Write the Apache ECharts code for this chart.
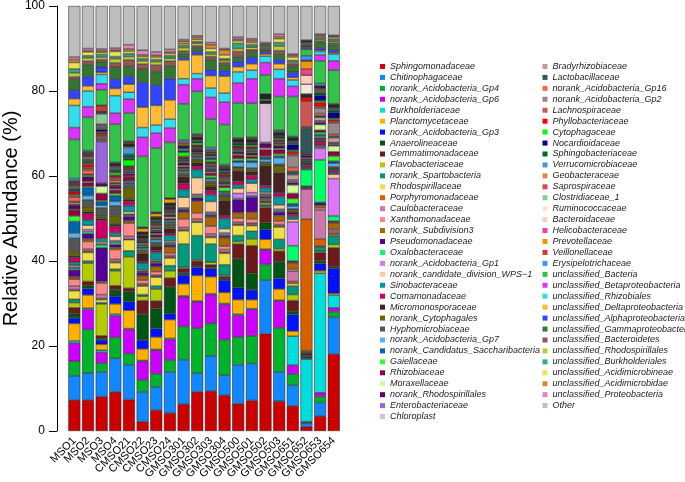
<!DOCTYPE html>
<html>
<head>
<meta charset="utf-8">
<script src="https://cdn.jsdelivr.net/npm/echarts@6/dist/echarts.min.js"></script>
<style>
html,body{margin:0;padding:0;background:#fff;}
#chart{width:685px;height:482px;}
</style>
</head>
<body>
<div id="chart"></div>
<script>
const samples = ['MSO1','MSO2','MSO3','MSO4','CMSO21','CMSO22','CMSO23','CMSO24','GMSO301','GMSO302','GMSO303','GMSO304','GMSO500','GMSO501','GMSO502','GMSO503','GMSO651','GMSO652','GMSO653','GMSO654'];

const families = ['Sphingomonadaceae','Chitinophagaceae','norank_Acidobacteria_Gp4','norank_Acidobacteria_Gp6','Burkholderiaceae','Planctomycetaceae','norank_Acidobacteria_Gp3','Anaerolineaceae','Gemmatimonadaceae','Flavobacteriaceae','norank_Spartobacteria','Rhodospirillaceae','Porphyromonadaceae','Caulobacteraceae','Xanthomonadaceae','norank_Subdivision3','Pseudomonadaceae','Oxalobacteraceae','norank_Acidobacteria_Gp1','norank_candidate_division_WPS\u22121','Sinobacteraceae','Comamonadaceae','Micromonosporaceae','norank_Cytophagales','Hyphomicrobiaceae','norank_Acidobacteria_Gp7','norank_Candidatus_Saccharibacteria','Gaiellaceae','Rhizobiaceae','Moraxellaceae','norank_Rhodospirillales','Enterobacteriaceae','Chloroplast',
'Bradyrhizobiaceae','Lactobacillaceae','norank_Acidobacteria_Gp16','norank_Acidobacteria_Gp2','Lachnospiraceae','Phyllobacteriaceae','Cytophagaceae','Nocardioidaceae','Sphingobacteriaceae','Verrucomicrobiaceae','Geobacteraceae','Saprospiraceae','Clostridiaceae_1','Ruminococcaceae','Bacteroidaceae','Helicobacteraceae','Prevotellaceae','Veillonellaceae','Erysipelotrichaceae','unclassified_Bacteria','unclassified_Betaproteobacteria','unclassified_Rhizobiales','unclassified_Deltaproteobacteria','unclassified_Alphaproteobacteria','unclassified_Gammaproteobacteria','unclassified_Bacteroidetes','unclassified_Rhodospirillales','unclassified_Burkholderiales','unclassified_Acidimicrobineae','unclassified_Acidimicrobidae','unclassified_Proteobacteria','Other'];

const colors = ['#CC0000','#1188FF','#00B22C','#CC00FF','#00DDDD','#FFB000','#0011FF','#005514','#6E1A1A','#B3CC00','#00997A','#EEE044','#D96000','#CC77AA','#FF8888','#AA6600','#550099','#00FF66','#DD77FF','#FFCC99','#009999','#CC0066','#442222','#666600','#555555','#55B4EE','#0066AA','#33FF33','#990044','#CCFF99','#660066','#9966DD','#DDBBDD',
'#CC9999','#335555','#FF6644','#998888','#CC5555','#FF0000','#00FF00','#000088','#006633','#4499DD','#DD8844','#DD4455','#88CC99','#F5E6DC','#FFCCBB','#EE4488','#EE9900','#DD3333','#3399FF','#33C24A','#DD33FF','#33DDEE','#FFBB33','#3344FF','#337733','#995555','#BBCC33','#33AA88','#EEE055','#DD8833','#DD88BB','#BEBEBE'];

const yTicks = [0, 20, 40, 60, 80, 100];

// relative abundance (%) of each family, in legend order, per sample
const MSO1 = [7.3,5.7,3.4,4.3,0.5,4.1,1.3,1.0,1.4,1.2, 0.8,2.0,0.3,0.8,1.6,0.6,1.6,0.4,0.3,0.4, 0.7,1.1,0.4,1.0,3.2,1.2,2.7,1.3,1.4,0.2, 0.8,0.2,0.1,0.5,0.2,1.0,0.4,0.3,0.6,0.2, 0.3,0.2,0.3,0.3,0.3,0.2,0.1,0.2,0.1,0.2, 0.2,0.5,9.2,2.8,5.2,1.6,2.0,2.6,0.5,1.0, 0.9,1.5,0.7,0.6,12.0];
const MSO2 = [7.3,6.4,10.2,4.7,0.3,3.1,1.5,0.7,1.0,4.3, 0.5,2.0,0.3,0.5,1.8,0.6,1.2,0.5,0.5,1.0, 1.3,1.4,0.5,1.2,1.6,1.0,1.9,0.3,0.8,0.3, 0.9,0.1,0.1,0.4,0.2,0.9,0.4,0.3,0.8,0.3, 0.3,0.3,0.3,0.4,0.3,0.2,0.1,0.2,0.1,0.2, 0.2,0.3,7.8,2.5,3.7,1.2,2.2,2.8,0.8,0.8, 0.5,0.9,0.3,0.5,10.0];
const MSO3 = [8.1,5.8,2.1,2.5,0.5,1.4,1.0,0.4,0.6,7.5, 0.3,0.7,0.3,0.9,2.7,0.4,7.9,0.7,0.3,0.4, 0.8,4.3,0.4,0.5,2.0,0.6,0.9,0.3,1.6,1.7, 0.7,9.8,0.2,0.3,0.2,0.4,0.3,0.2,0.5,0.2, 0.5,0.3,0.4,0.3,0.3,2.4,0.2,0.2,0.1,0.2, 1.2,0.2,3.6,1.4,2.2,0.5,1.3,1.2,0.5,0.6, 0.6,0.5,0.4,0.4,10.1];
const MSO4 = [9.2,7.9,4.9,5.1,0.4,2.4,1.8,1.5,1.0,3.5, 0.4,1.5,0.3,0.5,2.3,0.5,0.7,0.5,0.4,1.0, 0.8,1.5,0.6,2.0,2.3,1.0,1.4,0.5,0.8,0.3, 0.5,0.2,0.1,0.4,0.2,0.6,0.4,0.3,0.5,0.6, 0.3,0.3,0.3,0.3,0.2,0.2,0.1,0.1,0.1,0.1, 0.2,0.2,9.0,2.6,4.1,1.7,2.2,2.8,1.0,1.0, 0.5,1.2,0.3,0.5,9.9];
const CMSO21 = [7.4,8.2,2.6,5.7,0.2,4.3,2.0,2.4,0.8,7.4, 1.4,2.6,0.2,0.6,3.1,0.6,1.0,0.3,0.2,0.6, 1.4,1.0,0.5,2.7,0.6,0.3,0.4,0.3,1.0,0.2, 0.6,0.3,0.1,0.3,0.2,0.2,0.2,0.2,0.2,1.5, 0.3,1.0,1.6,0.3,0.1,0.1,0.1,0.1,0.1,0.2, 0.3,0.2,6.6,3.3,1.6,1.9,1.8,2.4,1.5,0.8, 0.7,0.6,0.5,1.0,9.1];
const CMSO22 = [2.2,7.0,2.8,4.4,0.2,2.7,2.1,6.1,3.2,1.0, 0.4,2.0,0.3,0.3,0.8,1.0,0.7,0.2,0.2,0.3, 1.6,0.3,1.9,0.5,0.4,0.4,0.3,0.3,0.3,0.3, 0.2,0.1,0.1,0.2,0.2,0.2,0.2,0.1,0.1,0.1, 0.1,0.1,0.2,0.2,0.1,0.1,0.1,0.1,0.1,0.9, 0.1,0.2,16.6,4.5,2.3,4.8,5.8,3.1,1.2,0.8, 0.5,0.5,0.4,1.1,10.4];
const CMSO23 = [4.9,5.5,3.1,5.5,0.2,2.9,2.0,4.7,1.8,2.8, 0.7,2.1,0.2,0.3,0.8,1.2,0.8,0.3,0.2,0.3, 1.7,0.5,1.0,0.4,0.5,0.6,0.3,0.3,0.6,0.3, 0.4,0.2,0.1,0.4,0.2,0.3,0.3,0.2,0.2,0.2, 0.2,0.1,0.3,0.2,0.1,0.1,0.1,0.2,0.1,0.8, 0.1,0.2,15.1,3.5,1.9,4.6,4.8,3.2,1.5,0.8, 0.5,0.6,0.4,0.8,10.8];
const CMSO24 = [4.2,9.7,2.8,4.8,0.3,4.4,1.4,6.3,2.1,1.7, 1.2,1.8,0.3,0.3,0.6,1.4,0.5,0.3,0.2,0.4, 1.3,0.4,1.2,0.5,0.6,0.3,0.3,0.3,0.4,0.4, 0.3,0.1,0.1,0.3,0.3,0.2,0.3,0.1,0.2,0.1, 0.2,0.1,0.2,0.2,0.1,0.1,0.1,0.1,0.1,1.0, 0.1,0.1,13.1,3.4,2.1,4.5,5.0,3.0,1.1,0.7, 0.6,0.5,0.4,0.6,10.2];
const GMSO301 = [6.3,10.5,7.8,7.0,0.2,2.8,2.1,0.5,1.0,0.3, 5.5,3.1,0.3,0.5,2.0,1.6,0.5,0.2,0.3,2.5, 1.8,1.4,1.6,0.5,0.4,0.4,0.3,0.3,0.5,0.3, 0.4,0.1,0.2,0.2,0.4,0.2,0.2,0.1,0.3,1.0, 0.2,0.1,0.5,0.2,0.1,0.1,0.1,0.1,0.1,0.3, 0.5,0.5,8.6,4.5,1.4,4.4,0.6,0.9,0.6,0.8, 0.5,0.4,0.6,0.4,7.9];
const GMSO302 = [9.2,4.4,10.6,6.2,0.2,6.0,1.9,0.3,1.2,0.3, 5.7,3.1,0.2,0.6,1.4,2.8,0.8,0.4,0.4,3.9, 1.9,0.8,0.9,0.6,0.3,0.3,0.3,0.3,0.4,0.2, 0.3,0.1,0.1,0.2,0.2,0.2,0.2,0.1,0.3,0.5, 0.2,0.1,0.3,0.2,0.1,0.1,0.1,0.1,0.1,0.2, 0.3,0.3,10.0,3.0,1.2,4.4,0.8,0.8,0.5,0.6, 0.4,0.5,0.5,0.4,7.0];
const GMSO303 = [9.4,8.3,7.6,6.8,0.2,4.0,1.9,0.3,0.6,0.6, 4.3,1.5,0.3,0.6,1.8,2.2,0.4,0.3,0.4,2.5, 1.6,1.0,1.0,0.8,0.4,0.5,0.3,0.5,0.6,0.3, 0.4,0.2,0.2,0.3,0.4,0.2,0.3,0.1,0.3,0.5, 0.2,0.2,0.4,0.2,0.1,0.1,0.2,0.2,0.1,0.3, 0.3,0.5,6.7,5.1,2.2,2.9,1.4,2.4,0.7,0.6, 0.5,0.8,0.9,0.5,8.6];
const GMSO304 = [8.4,4.7,8.4,8.3,0.2,2.6,2.9,0.3,0.5,0.3, 2.5,2.7,0.3,0.6,0.8,2.0,0.4,0.3,0.4,1.0, 2.4,0.6,3.6,0.8,0.8,0.3,0.3,0.9,0.4,0.3, 0.3,0.2,0.1,0.3,0.3,0.3,0.3,0.1,0.4,0.2, 0.2,0.2,0.3,0.2,0.1,0.1,0.1,0.2,0.1,0.2, 0.2,0.3,9.4,5.3,2.1,4.0,1.3,1.3,0.6,0.5, 0.4,0.9,1.2,0.3,10.0];
const GMSO500 = [6.4,9.2,6.5,5.1,0.3,3.4,2.8,6.8,3.5,0.6, 1.4,2.4,0.3,0.4,1.0,1.3,3.0,0.3,1.2,1.2, 0.8,0.8,2.5,0.6,0.4,1.0,0.4,0.5,0.8,0.3, 0.3,0.1,0.1,0.3,0.3,0.2,0.2,0.1,0.2,0.3, 0.2,0.1,0.2,0.2,0.1,0.1,0.1,0.1,0.1,0.1, 0.2,0.2,8.2,4.7,2.6,1.2,1.2,1.2,1.2,0.7, 1.2,0.6,0.4,0.5,7.3];
const GMSO501 = [7.2,8.7,6.5,6.2,0.2,2.1,2.3,3.9,6.5,1.6, 1.8,1.3,0.3,0.3,1.0,1.6,3.5,0.3,0.8,2.2, 0.9,1.0,0.8,0.5,0.4,1.3,0.4,0.5,0.5,0.3, 0.3,0.1,0.1,0.3,0.3,0.2,0.3,0.1,0.3,0.4, 0.2,0.1,0.2,0.2,0.1,0.1,0.1,0.1,0.1,0.1, 0.3,0.2,8.0,5.8,2.0,1.5,1.5,1.2,0.6,0.6, 0.6,0.5,0.5,0.4,7.7];
const GMSO502 = [22.9,12.6,3.7,3.4,0.2,2.3,2.3,1.6,3.6,0.3, 0.4,0.4,0.2,0.2,0.3,0.4,0.4,0.3,0.3,0.4, 1.0,0.6,4.6,0.5,0.4,0.6,0.5,0.3,1.5,0.4, 1.0,0.3,9.2,0.1,0.1,0.1,0.1,0.1,0.1,0.4, 0.1,0.1,0.1,0.1,0.1,0.1,0.1,0.1,0.1,0.1, 0.1,0.1,4.5,2.9,1.5,0.5,0.5,0.5,0.4,0.3, 0.3,0.2,0.2,0.3,8.6];
const GMSO503 = [7.0,6.9,10.4,6.3,0.2,2.6,2.5,3.9,2.5,0.6, 2.2,2.9,0.3,0.3,0.8,1.3,0.8,0.3,0.4,1.0, 2.0,0.8,4.8,1.5,0.5,1.5,0.4,0.5,1.0,0.3, 0.4,0.1,0.1,0.3,0.3,0.2,0.3,0.1,0.3,0.3, 0.2,0.1,0.2,0.2,0.1,0.1,0.1,0.1,0.1,0.2, 0.2,0.3,7.9,4.2,2.2,1.3,1.0,1.3,0.8,1.1, 0.8,0.9,0.5,0.6,6.6];
const GMSO651 = [5.9,4.9,2.6,2.1,6.8,1.2,3.9,0.8,2.5,1.4, 2.0,0.6,0.5,2.4,0.5,1.5,0.4,3.6,5.6,0.6, 0.6,0.6,0.5,0.4,0.4,0.6,0.6,1.2,1.2,2.0, 0.5,0.4,0.3,1.2,0.8,0.9,2.8,0.4,0.6,0.3, 1.3,0.3,0.3,0.2,0.2,0.1,0.1,0.1,0.1,0.1, 0.2,0.2,9.4,2.4,1.5,0.6,1.2,1.4,0.6,0.4, 0.4,0.8,0.4,0.3,11.3];
const GMSO652 = [1.0,0.8,0.2,0.2,14.7,0.2,0.3,0.4,0.5,0.2, 0.2,0.2,30.9,7.1,0.2,0.2,0.3,3.9,0.2,0.2, 0.2,0.4,0.3,0.2,0.2,0.2,0.2,0.2,0.3,0.2, 0.5,0.2,0.1,0.2,5.9,0.2,0.2,6.0,0.9,0.1, 0.1,0.1,0.1,0.1,0.2,0.1,2.3,2.1,1.5,1.8, 0.3,1.0,1.5,0.2,0.2,0.2,0.2,0.3,0.3,0.2, 0.2,0.1,0.1,0.2,8.0];
const GMSO653 = [3.5,3.2,1.4,0.9,28.1,0.6,1.7,0.6,2.0,0.3, 1.0,0.2,1.7,6.8,0.5,0.6,0.7,10.0,2.7,0.3, 0.4,0.8,0.4,0.3,0.3,0.4,0.4,0.5,0.5,1.3, 0.4,0.3,0.2,0.8,0.4,0.5,1.3,0.4,0.9,0.4, 1.3,0.6,0.3,0.2,0.4,0.2,0.1,0.1,0.1,0.1, 0.2,0.5,5.3,1.4,0.8,0.3,0.5,1.2,0.4,0.4, 0.4,0.3,0.3,0.3,6.6];
const GMSO654 = [18.1,8.7,1.3,0.9,3.0,0.4,5.9,0.3,4.5,0.8, 2.0,0.3,0.4,0.5,0.4,1.5,0.4,1.2,8.8,1.0, 0.4,0.5,0.3,0.3,0.3,0.8,0.5,1.2,1.0,1.4, 0.3,0.3,0.2,1.1,0.4,0.4,2.7,0.3,0.5,0.3, 1.4,0.5,0.3,0.2,0.2,0.1,0.1,0.1,0.1,0.1, 0.1,0.2,7.9,2.2,1.6,0.3,0.6,1.2,0.5,0.4, 0.5,0.4,0.3,0.2,6.9];

const sampleValues = [MSO1,MSO2,MSO3,MSO4,CMSO21,CMSO22,CMSO23,CMSO24,GMSO301,GMSO302,GMSO303,GMSO304,GMSO500,GMSO501,GMSO502,GMSO503,GMSO651,GMSO652,GMSO653,GMSO654];

const FONT = '"Liberation Sans", Arial, Helvetica, sans-serif';
const chart = echarts.init(document.getElementById('chart'), null, {renderer: 'canvas'});

const series = families.map((f, i) => ({
  name: f,
  type: 'bar',
  stack: 'total',
  barWidth: 12,
  data: sampleValues.map(v => v[i]),
  itemStyle: {color: colors[i], borderColor: '#1a1a1a', borderWidth: 0.5},
  emphasis: {disabled: true}
}));

const legendCommon = {
  orient: 'vertical',
  icon: 'rect',
  itemWidth: 5,
  itemHeight: 5,
  itemGap: 0,
  selectedMode: false,
  itemStyle: {borderWidth: 0},
  textStyle: {fontFamily: FONT, fontSize: 9, fontStyle: 'italic', color: '#222', lineHeight: 10.94}
};

chart.setOption({
  animation: false,
  backgroundColor: '#ffffff',
  color: colors,
  grid: {left: 55.6, right: 344.4, top: 5, bottom: 51, containLabel: false},
  legend: [
    Object.assign({}, legendCommon, {data: families.slice(0, 33), left: 375, top: 56}),
    Object.assign({}, legendCommon, {data: families.slice(33), left: 537.5, top: 56})
  ],
  xAxis: {
    type: 'category',
    data: samples,
    axisLine: {show: false},
    axisTick: {show: false},
    axisLabel: {interval: 0, rotate: 45, fontSize: 11, color: '#000', fontFamily: FONT, margin: 8}
  },
  yAxis: {
    type: 'value',
    min: yTicks[0],
    max: yTicks[yTicks.length - 1],
    interval: 20,
    offset: 10.6,
    name: 'Relative Abundance (%)',
    nameLocation: 'middle',
    nameRotate: 90,
    nameGap: 30,
    nameTextStyle: {fontFamily: FONT, fontSize: 20, color: '#000'},
    axisLine: {show: true, lineStyle: {color: '#000', width: 1}},
    axisTick: {show: true, inside: false, length: 8, lineStyle: {color: '#000'}},
    axisLabel: {fontSize: 12, color: '#000', fontFamily: FONT, margin: 12},
    splitLine: {show: false}
  },
  series: series
});
</script>
</body>
</html>
